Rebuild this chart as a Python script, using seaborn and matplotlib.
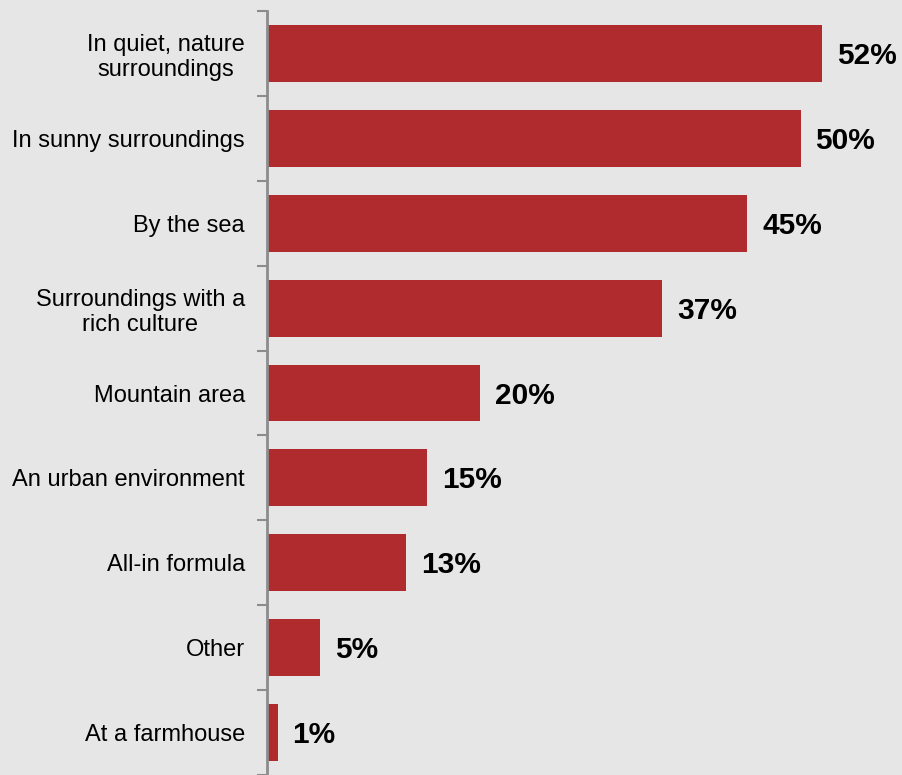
import matplotlib
matplotlib.use("Agg")
import matplotlib.pyplot as plt
import seaborn as sns
import pandas as pd
import numpy as np

categories = [
    "In quiet, nature\nsurroundings",
    "In sunny surroundings",
    "By the sea",
    "Surroundings with a\nrich culture",
    "Mountain area",
    "An urban environment",
    "All-in formula",
    "Other",
    "At a farmhouse",
]
shares = [52, 50, 45, 37, 20, 15, 13, 5, 1]

bg = "#e6e6e6"
bar_color = "#b02b2e"
axis_gray = "#8c8c8c"

sns.set_theme(style="white")
plt.rcParams["font.family"] = ["Liberation Sans", "DejaVu Sans"]

df = pd.DataFrame({"category": categories, "share": shares})

fig = plt.figure(figsize=(9.02, 7.75), dpi=100, facecolor=bg)
ax = fig.add_axes([267 / 902, 0.0, 1 - 267 / 902, 1 - 11 / 775])
ax.set_facecolor(bg)

sns.barplot(data=df, x="share", y="category", orient="h", color=bar_color,
            saturation=1, width=0.67, linewidth=0, ax=ax)

for i, v in enumerate(shares):
    ax.text(v + 1.4, i + 0.03, f"{v}%", va="center", ha="left",
            fontsize=21.5, fontweight="bold", color="black")

ax.set_xlim(0, 59.5)
ax.set_ylim(len(categories) - 0.5, -0.5)
ax.set_xlabel("")
ax.set_ylabel("")
ax.set_xticks([])

for side in ["top", "right", "bottom"]:
    ax.spines[side].set_visible(False)
ax.spines["left"].set_color(axis_gray)
ax.spines["left"].set_linewidth(2)

ax.set_yticks(np.arange(-0.5, len(categories), 1.0), minor=True)
ax.tick_params(axis="y", which="minor", length=7, width=1.5, color=axis_gray, left=True)
ax.tick_params(axis="y", which="major", length=0, pad=16, labelsize=17, labelcolor="black")
for lbl in ax.get_yticklabels():
    lbl.set_horizontalalignment("right")
    lbl.set_multialignment("center")

fig.savefig("out.png", dpi=100, facecolor=bg)
